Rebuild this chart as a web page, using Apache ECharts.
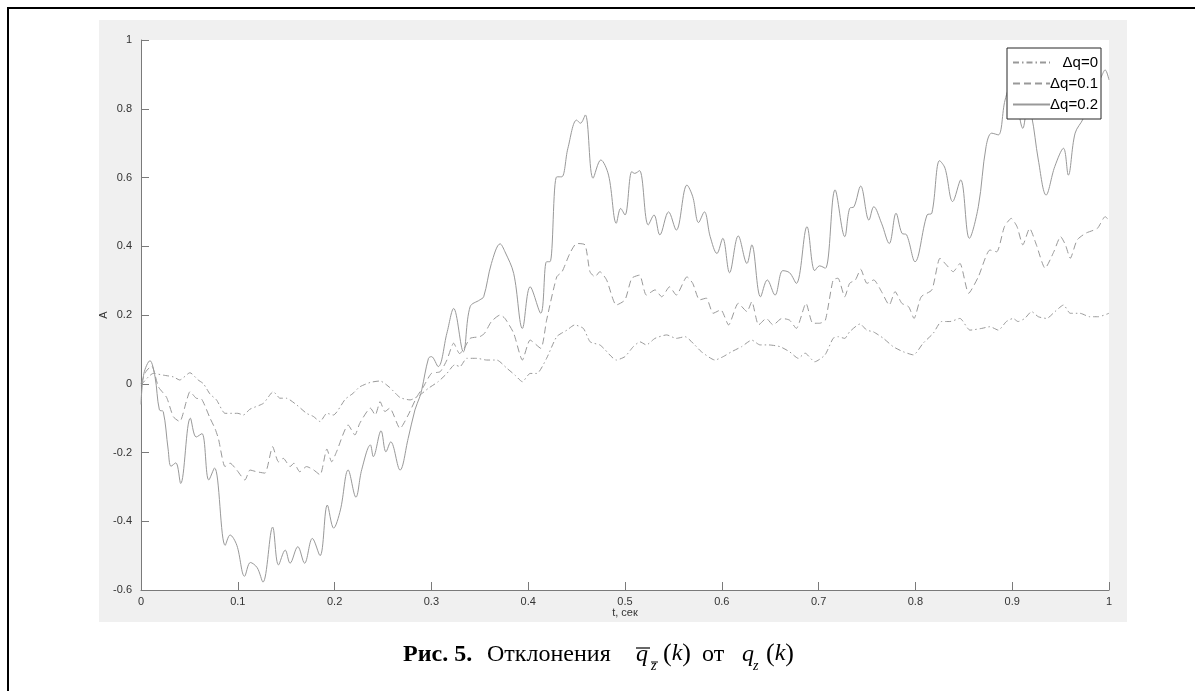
<!DOCTYPE html>
<html>
<head>
<meta charset="utf-8">
<script src="https://cdn.jsdelivr.net/npm/echarts@6/dist/echarts.min.js"></script>
<style>
  html, body { margin: 0; padding: 0; background: #fff; }
  #chart { width: 1195px; height: 691px; }
</style>
</head>
<body>
<div id="chart"></div>
<script>
// Δq=0 (штрих-пунктир)
var tDq0 = [0, 0.0127, 0.023, 0.0334, 0.04, 0.0506, 0.059, 0.0645, 0.0713, 0.078, 0.0868, 0.094, 0.1, 0.1057, 0.1126,
    0.1264, 0.1367, 0.1436, 0.15, 0.161, 0.171, 0.178, 0.185, 0.192, 0.1987, 0.211, 0.219, 0.226, 0.237, 0.247, 0.257,
    0.2676, 0.278, 0.288, 0.297, 0.307, 0.316, 0.324, 0.3295, 0.3365, 0.347, 0.357, 0.3675, 0.378, 0.3864, 0.394, 0.402,
    0.409, 0.419, 0.4295, 0.44, 0.448, 0.457, 0.464, 0.474, 0.478, 0.491, 0.5, 0.5086, 0.5155, 0.522, 0.531, 0.543,
    0.553, 0.562, 0.572, 0.579, 0.593, 0.6015, 0.61, 0.6205, 0.631, 0.6395, 0.648, 0.66, 0.67, 0.679, 0.686, 0.696,
    0.7066, 0.715, 0.72, 0.727, 0.732, 0.7428, 0.7497, 0.7566, 0.767, 0.777, 0.7875, 0.798, 0.808, 0.8185, 0.827,
    0.8357, 0.846, 0.8564, 0.8685, 0.877, 0.8857, 0.894, 0.901, 0.906, 0.913, 0.92, 0.927, 0.9356, 0.9442, 0.953,
    0.96, 0.97, 0.98, 0.989, 1];
var vDq0 = [-0.004, 0.03, 0.025, 0.02, 0.011, 0.032, 0.011, 0, -0.03, -0.047, -0.086, -0.086, -0.086, -0.091, -0.074,
    -0.057, -0.023, -0.042, -0.042, -0.062, -0.086, -0.095, -0.11, -0.086, -0.091, -0.045, -0.028, -0.009, 0.004, 0.008, -0.011,
    -0.04, -0.047, -0.033, -0.013, 0.006, 0.03, 0.055, 0.05, 0.074, 0.074, 0.069, 0.069, 0.045, 0.025, 0.006, 0.03,
    0.03, 0.074, 0.137, 0.156, 0.171, 0.161, 0.122, 0.113, 0.103, 0.069, 0.079, 0.108, 0.122, 0.113, 0.132, 0.142,
    0.132, 0.137, 0.113, 0.093, 0.069, 0.079, 0.093, 0.108, 0.127, 0.113, 0.113, 0.108, 0.093, 0.074, 0.089, 0.064,
    0.084, 0.132, 0.137, 0.132, 0.151, 0.174, 0.156, 0.151, 0.132, 0.108, 0.093, 0.084, 0.118, 0.147, 0.181,
    0.181, 0.19, 0.156, 0.161, 0.166, 0.156, 0.181, 0.19, 0.181, 0.19, 0.21, 0.195, 0.19, 0.21, 0.229,
    0.205, 0.205, 0.195, 0.195, 0.205];

// Δq=0.1 (штрихи)
var tDq01 = [0, 0.005, 0.011, 0.018, 0.0265, 0.0334, 0.04, 0.047, 0.0506, 0.057, 0.0627, 0.0713, 0.0764, 0.08, 0.0868,
    0.092, 0.0989, 0.1074, 0.1126, 0.1195, 0.128, 0.136, 0.142, 0.147, 0.154, 0.158, 0.164, 0.171, 0.178, 0.185, 0.192,
    0.197, 0.202, 0.214, 0.221, 0.226, 0.237, 0.242, 0.247, 0.252, 0.257, 0.2676, 0.276, 0.285, 0.2917, 0.3, 0.309,
    0.316, 0.323, 0.329, 0.333, 0.34, 0.35, 0.355, 0.362, 0.371, 0.376, 0.385, 0.394, 0.402, 0.413, 0.419, 0.4295,
    0.435, 0.443, 0.45, 0.4587, 0.4638, 0.469, 0.474, 0.481, 0.491, 0.5, 0.507, 0.515, 0.522, 0.531, 0.538, 0.546,
    0.553, 0.564, 0.57, 0.577, 0.584, 0.591, 0.599, 0.607, 0.617, 0.626, 0.631, 0.638, 0.646, 0.653, 0.662, 0.67,
    0.677, 0.687, 0.694, 0.701, 0.707, 0.715, 0.72, 0.727, 0.732, 0.738, 0.7435, 0.75, 0.757, 0.765, 0.773, 0.779,
    0.786, 0.793, 0.7986, 0.806, 0.817, 0.8254, 0.8323, 0.839, 0.846, 0.855, 0.865, 0.877, 0.884, 0.892, 0.899,
    0.905, 0.911, 0.918, 0.925, 0.934, 0.943, 0.95, 0.955, 0.96, 0.967, 0.976, 0.988, 0.996, 1];
var vDq01 = [0, 0.035, 0.052, -0.009, -0.04, -0.096, -0.11, -0.05, -0.023, -0.042, -0.045, -0.1, -0.13, -0.16, -0.241,
    -0.231, -0.251, -0.28, -0.251, -0.256, -0.26, -0.183, -0.227, -0.217, -0.241, -0.231, -0.256, -0.241, -0.25, -0.265, -0.19,
    -0.227, -0.198, -0.12, -0.149, -0.115, -0.071, -0.091, -0.052, -0.081, -0.071, -0.13, -0.091, -0.038, -0.009, 0.03, 0.035,
    0.069, 0.118, 0.088, 0.098, 0.132, 0.137, 0.147, 0.181, 0.2, 0.19, 0.147, 0.069, 0.127, 0.103, 0.185, 0.311,
    0.326, 0.379, 0.408, 0.404, 0.326, 0.311, 0.326, 0.302, 0.229, 0.244, 0.307, 0.316, 0.258, 0.273, 0.253, 0.282,
    0.258, 0.311, 0.292, 0.244, 0.249, 0.205, 0.215, 0.171, 0.234, 0.21, 0.239, 0.171, 0.19, 0.171, 0.19, 0.185,
    0.161, 0.234, 0.176, 0.176, 0.185, 0.302, 0.307, 0.253, 0.292, 0.302, 0.333, 0.292, 0.302, 0.268, 0.229, 0.268,
    0.234, 0.224, 0.19, 0.253, 0.273, 0.365, 0.345, 0.326, 0.35, 0.263, 0.311, 0.389, 0.384, 0.457, 0.481,
    0.457, 0.404, 0.452, 0.404, 0.336, 0.384, 0.428, 0.404, 0.365, 0.418, 0.438, 0.452, 0.486, 0.476];

// Δq=0.2 (сплошная)
var tDq02 = [0, 0.003, 0.0093, 0.0145, 0.019, 0.023, 0.028, 0.031, 0.036, 0.041, 0.051, 0.057, 0.063, 0.07, 0.076,
    0.087, 0.092, 0.099, 0.107, 0.113, 0.12, 0.126, 0.136, 0.142, 0.149, 0.154, 0.162, 0.169, 0.177, 0.185, 0.1925,
    0.199, 0.206, 0.214, 0.222, 0.228, 0.237, 0.24, 0.248, 0.253, 0.258, 0.2676, 0.276, 0.283, 0.288, 0.29, 0.297,
    0.3, 0.307, 0.316, 0.323, 0.333, 0.34, 0.35, 0.354, 0.362, 0.371, 0.376, 0.385, 0.394, 0.402, 0.413, 0.419,
    0.4225, 0.4295, 0.4346, 0.441, 0.45, 0.454, 0.459, 0.467, 0.475, 0.483, 0.491, 0.4955, 0.5, 0.507, 0.51, 0.515,
    0.524, 0.53, 0.536, 0.545, 0.553, 0.564, 0.57, 0.576, 0.582, 0.588, 0.595, 0.601, 0.608, 0.617, 0.626, 0.631,
    0.64, 0.647, 0.655, 0.663, 0.67, 0.677, 0.688, 0.696, 0.701, 0.707, 0.717, 0.727, 0.732, 0.7366, 0.7435, 0.752,
    0.757, 0.765, 0.773, 0.78, 0.786, 0.791, 0.7996, 0.812, 0.817, 0.825, 0.8306, 0.8385, 0.8468, 0.8557, 0.865,
    0.873, 0.8788, 0.8857, 0.8926, 0.9, 0.906, 0.911, 0.916, 0.92, 0.927, 0.935, 0.944, 0.953, 0.958, 0.965,
    0.9735, 0.982, 0.992, 0.996, 1];
var vDq02 = [-0.06, 0.03, 0.067, 0.02, -0.076, -0.081, -0.19, -0.24, -0.23, -0.29, -0.1, -0.155, -0.145, -0.28, -0.245,
    -0.47, -0.44, -0.47, -0.56, -0.52, -0.535, -0.577, -0.417, -0.527, -0.484, -0.522, -0.474, -0.522, -0.45, -0.5, -0.353,
    -0.42, -0.367, -0.251, -0.33, -0.25, -0.178, -0.212, -0.137, -0.198, -0.169, -0.251, -0.159, -0.076, -0.038, -0.018, 0.074,
    0.079, 0.05, 0.147, 0.219, 0.093, 0.224, 0.244, 0.253, 0.35, 0.407, 0.384, 0.321, 0.161, 0.282, 0.205, 0.355,
    0.355, 0.602, 0.602, 0.685, 0.767, 0.758, 0.782, 0.598, 0.651, 0.607, 0.467, 0.51, 0.491, 0.617, 0.612, 0.62,
    0.462, 0.491, 0.433, 0.5, 0.447, 0.578, 0.544, 0.469, 0.5, 0.428, 0.379, 0.423, 0.323, 0.43, 0.35, 0.404,
    0.253, 0.302, 0.258, 0.329, 0.323, 0.292, 0.457, 0.329, 0.343, 0.336, 0.564, 0.428, 0.51, 0.515, 0.575, 0.476,
    0.515, 0.467, 0.408, 0.496, 0.438, 0.433, 0.355, 0.491, 0.496, 0.649, 0.627, 0.53, 0.593, 0.423, 0.515,
    0.69, 0.729, 0.724, 0.825, 0.88, 0.8, 0.743, 0.8, 0.78, 0.651, 0.549, 0.632, 0.685, 0.607, 0.729,
    0.772, 0.84, 0.893, 0.913, 0.884];

var seriesNames = ['Δq=0', 'Δq=0.1', 'Δq=0.2'];

function pairs(t, v) {
    var out = [];
    for (var i = 0; i < t.length; i++) out.push([t[i], v[i]]);
    return out;
}

var myChart = echarts.init(document.getElementById('chart'));
var lineColor = '#999999';
var axisColor = '#7a7a7a';
var labelColor = '#333';
var serif = 'Liberation Serif';
var cy = 667; // низ строки подписи

var option = {
    animation: false,
    backgroundColor: '#fff',
    grid: {
        left: 141,
        right: 86,
        top: 40,
        bottom: 101,
        show: true,
        backgroundColor: '#fff',
        borderWidth: 0
    },
    graphic: [
        {   // серый фон фигуры
            type: 'rect', z: -10, silent: true,
            shape: { x: 99, y: 20, width: 1028, height: 602 },
            style: { fill: '#f0f0f0' }
        },
        {   // рамка
            type: 'rect', z: 100, silent: true,
            shape: { x: 8, y: 8, width: 1200, height: 700 },
            style: { fill: 'none', stroke: '#000', lineWidth: 2 }
        },
        // подписи осей
        { type: 'text', silent: true, x: 104, y: 315, rotation: Math.PI / 2,
          style: { text: 'A', font: '11px "Liberation Sans"', fill: labelColor, textAlign: 'center', textVerticalAlign: 'middle' } },
        { type: 'text', silent: true, x: 625, y: 613,
          style: { text: 't, сек', font: '11px "Liberation Sans"', fill: labelColor, textAlign: 'center', textVerticalAlign: 'middle' } },
        // подпись рисунка
        { type: 'text', silent: true, x: 403, y: cy,
          style: { text: 'Рис. 5.', font: 'bold 24px "Liberation Serif"', fill: '#000', textVerticalAlign: 'bottom' } },
        { type: 'text', silent: true, x: 487, y: cy,
          style: { text: 'Отклонения', font: '24px "Liberation Serif"', fill: '#000', textVerticalAlign: 'bottom' } },
        { type: 'text', silent: true, x: 636, y: cy,
          style: { text: 'q', font: 'italic 24px "Liberation Serif"', fill: '#000', textVerticalAlign: 'bottom' } },
        { type: 'line', silent: true, shape: { x1: 636, y1: cy - 19, x2: 650, y2: cy - 19 }, style: { stroke: '#000', lineWidth: 1.2 } },
        { type: 'text', silent: true, x: 651, y: cy + 6,
          style: { text: 'z', font: 'italic 14px "Liberation Serif"', fill: '#000', textVerticalAlign: 'bottom' } },
        { type: 'line', silent: true, shape: { x1: 651, y1: cy - 5, x2: 658, y2: cy - 5 }, style: { stroke: '#000', lineWidth: 1 } },
        { type: 'text', silent: true, x: 663, y: cy,
          style: { text: '{n|(}{i|k}{n|)}', fill: '#000', textVerticalAlign: 'bottom',
                   rich: { n: { fontFamily: serif, fontSize: 26 }, i: { fontFamily: serif, fontSize: 24, fontStyle: 'italic' } } } },
        { type: 'text', silent: true, x: 702, y: cy,
          style: { text: 'от', font: '24px "Liberation Serif"', fill: '#000', textVerticalAlign: 'bottom' } },
        { type: 'text', silent: true, x: 742, y: cy,
          style: { text: 'q', font: 'italic 24px "Liberation Serif"', fill: '#000', textVerticalAlign: 'bottom' } },
        { type: 'text', silent: true, x: 753, y: cy + 6,
          style: { text: 'z', font: 'italic 14px "Liberation Serif"', fill: '#000', textVerticalAlign: 'bottom' } },
        { type: 'text', silent: true, x: 766, y: cy,
          style: { text: '{n|(}{i|k}{n|)}', fill: '#000', textVerticalAlign: 'bottom',
                   rich: { n: { fontFamily: serif, fontSize: 26 }, i: { fontFamily: serif, fontSize: 24, fontStyle: 'italic' } } } }
    ],
    legend: {
        left: 1007,
        top: 48,
        orient: 'vertical',
        backgroundColor: '#fff',
        borderColor: '#262626',
        borderWidth: 1,
        borderRadius: 0,
        padding: [7, 3, 7, 5],
        itemGap: 6,
        itemWidth: 37,
        itemHeight: 14,
        itemStyle: { opacity: 0 },
        formatter: function (name) { return '{a|' + name + '}'; },
        textStyle: {
            color: '#000',
            rich: {
                a: { fontFamily: 'Liberation Sans', fontSize: 15, width: 43, align: 'right', color: '#000' }
            }
        },
        data: seriesNames
    },
    xAxis: {
        type: 'value',
        min: 0,
        max: 1,
        interval: 0.1,
        axisLine: { onZero: false, lineStyle: { color: axisColor, width: 1 } },
        axisTick: { inside: true, length: 8, lineStyle: { color: axisColor } },
        axisLabel: {
            color: labelColor, fontFamily: 'Liberation Sans', fontSize: 11, margin: 6,
            formatter: function (v) { return String(+v.toFixed(1)); }
        },
        splitLine: { show: false }
    },
    yAxis: {
        type: 'value',
        min: -0.6,
        max: 1,
        interval: 0.2,
        axisLine: { show: true, onZero: false, lineStyle: { color: axisColor, width: 1 } },
        axisTick: { show: true, inside: true, length: 8, lineStyle: { color: axisColor } },
        axisLabel: {
            color: labelColor, fontFamily: 'Liberation Sans', fontSize: 11, margin: 9,
            formatter: function (v) { return String(+v.toFixed(1)); }
        },
        splitLine: { show: false }
    },
    series: [{
        name: seriesNames[0],
        type: 'line',
        data: pairs(tDq0, vDq0),
        symbol: 'none',
        smooth: 0.2,
        lineStyle: { color: lineColor, width: 1, type: [6, 3, 1.5, 3] },
        itemStyle: { color: lineColor }
    }, {
        name: seriesNames[1],
        type: 'line',
        data: pairs(tDq01, vDq01),
        symbol: 'none',
        smooth: 0.2,
        lineStyle: { color: lineColor, width: 1, type: [7, 4] },
        itemStyle: { color: lineColor }
    }, {
        name: seriesNames[2],
        type: 'line',
        data: pairs(tDq02, vDq02),
        symbol: 'none',
        smooth: 0.35,
        lineStyle: { color: lineColor, width: 1, type: 'solid' },
        itemStyle: { color: lineColor }
    }]
};
myChart.setOption(option);
</script>
</body>
</html>
